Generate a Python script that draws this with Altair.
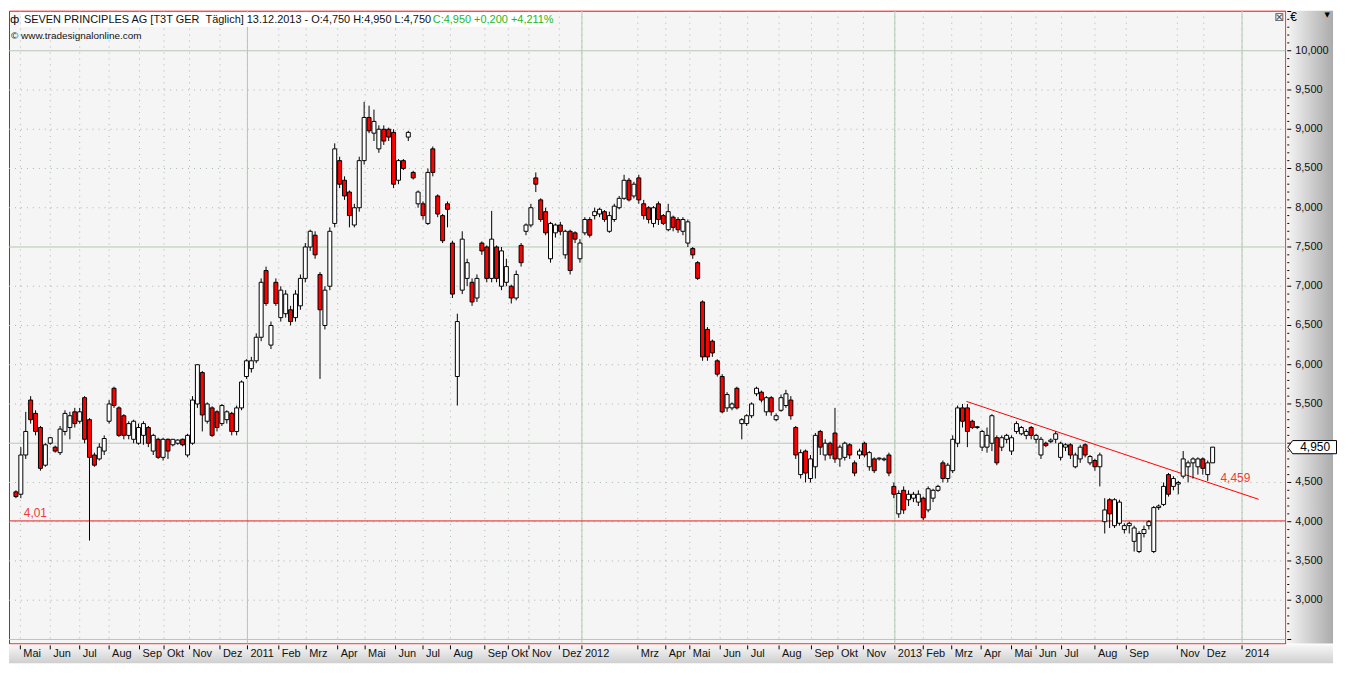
import altair as alt
import pandas as pd

# ---------------- data ----------------
opens = [4.38,4.35,4.85,5.55,5.38,5.20,4.72,5.00,4.95,4.88,5.15,5.20,5.40,5.28,5.58,5.30,4.85,4.80,4.90,5.28,
         5.70,5.45,5.35,5.10,5.05,5.00,5.10,5.20,4.90,5.05,4.82,5.05,4.98,5.00,5.05,4.85,5.00,5.50,5.90,5.28,
         5.45,5.40,5.25,5.30,5.38,5.15,5.45,5.85,5.95,6.05,6.35,7.20,6.25,7.05,6.60,6.65,6.70,6.60,6.75,7.10,
         7.50,7.65,7.15,6.50,7.00,7.80,8.60,8.35,8.20,7.78,8.00,8.60,9.15,8.95,8.75,9.00,9.00,8.96,8.35,8.60,
         8.90,8.45,8.05,8.05,7.80,8.75,8.15,7.90,8.05,7.55,5.85,6.95,7.10,7.05,6.85,7.55,7.50,7.10,7.50,7.00,
         7.05,7.00,6.85,7.52,7.70,7.78,8.38,8.10,7.95,7.35,7.68,7.78,7.40,7.70,7.68,7.35,7.68,7.85,7.90,7.92,
         7.95,7.70,7.85,8.00,8.12,8.35,8.15,8.38,8.05,8.00,7.80,8.05,7.90,7.72,7.88,7.85,7.70,7.55,7.48,7.30,
         6.80,6.45,6.30,6.05,5.85,5.45,5.45,5.70,5.25,5.25,5.35,5.63,5.65,5.40,5.58,5.30,5.42,5.48,5.55,5.20,
         4.60,4.90,4.55,4.70,5.15,4.85,5.00,5.13,4.80,4.82,4.98,4.75,4.85,5.00,4.70,4.80,4.80,4.79,4.85,4.45,
         4.10,4.40,4.28,4.30,4.25,4.30,4.15,4.30,4.40,4.75,4.55,4.65,5.00,5.45,5.45,5.28,5.20,4.95,4.95,5.00,
         5.07,4.95,5.05,4.90,5.15,5.12,5.10,5.20,5.05,4.85,5.00,5.02,5.05,4.82,4.95,4.98,4.70,4.80,4.98,4.75,
         4.78,4.70,4.00,4.28,3.95,3.98,3.90,3.95,3.75,3.62,3.85,3.95,3.62,4.18,4.22,4.60,4.45,4.48,4.58,4.70,
         4.75,4.70,4.80,4.60,4.75]
highs = [4.40,4.95,5.40,5.60,5.42,5.22,5.00,5.08,4.97,5.22,5.42,5.40,5.45,5.45,5.60,5.32,4.88,5.00,5.10,5.55,
         5.72,5.47,5.37,5.28,5.30,5.25,5.28,5.22,5.12,5.07,5.07,5.06,5.05,5.05,5.06,5.12,5.60,6.00,5.92,5.52,
         5.47,5.42,5.50,5.42,5.40,5.48,5.80,6.07,6.10,6.40,7.10,7.25,6.55,7.10,7.00,6.95,6.75,6.95,7.15,7.55,
         7.72,7.70,7.18,7.00,7.75,8.82,8.65,8.40,8.22,8.05,8.65,9.35,9.30,9.25,9.05,9.05,9.02,9.00,8.62,8.62,
         8.98,8.47,8.22,8.08,8.50,8.78,8.17,7.92,8.08,7.58,6.65,7.70,7.35,7.10,7.15,7.57,7.52,7.96,7.52,7.50,
         7.35,7.02,7.20,7.55,7.80,8.05,8.45,8.12,8.00,7.82,7.80,7.82,7.72,7.72,7.70,7.60,7.88,7.88,8.00,8.00,
         7.97,7.95,8.05,8.15,8.42,8.38,8.33,8.42,8.10,8.02,8.02,8.08,7.92,8.05,7.90,7.88,7.88,7.85,7.50,7.32,
         6.82,6.48,6.32,6.07,5.88,5.65,5.52,5.72,5.32,5.37,5.52,5.72,5.67,5.60,5.60,5.38,5.62,5.68,5.60,5.22,
         4.92,4.92,4.85,5.13,5.17,5.05,5.02,5.45,4.98,5.02,5.00,4.78,4.93,5.02,4.90,4.82,4.82,4.82,4.88,4.50,
         4.40,4.45,4.40,4.38,4.40,4.32,4.45,4.42,4.47,4.78,4.75,5.10,5.48,5.50,5.50,5.30,5.22,5.17,5.20,5.37,
         5.10,5.10,5.12,5.10,5.28,5.22,5.18,5.22,5.12,5.08,5.02,5.06,5.15,5.02,5.00,5.00,4.88,4.98,5.00,4.85,
         4.80,4.88,4.30,4.30,4.30,4.28,3.98,4.00,3.95,3.88,3.95,4.02,4.20,4.22,4.50,4.62,4.58,4.52,4.90,4.78,
         4.82,4.82,4.82,4.78,4.95]
lows = [4.30,4.30,4.80,5.25,5.10,4.65,4.70,4.98,4.88,4.85,5.10,5.05,5.20,5.25,5.00,3.76,4.70,4.78,4.85,5.25,
        5.45,5.08,5.05,5.05,5.00,4.98,4.98,4.95,4.85,4.80,4.78,4.80,4.96,4.98,4.96,4.82,4.98,5.45,5.15,5.25,
        5.08,5.15,5.22,5.25,5.10,5.10,5.42,5.82,5.90,6.02,6.30,6.75,6.20,6.75,6.55,6.60,6.50,6.55,6.70,7.05,
        7.45,7.35,5.82,6.45,6.95,7.75,8.25,8.10,7.75,7.75,7.95,8.55,8.95,8.85,8.70,8.80,8.85,8.25,8.30,8.48,
        8.85,8.36,8.00,7.85,7.78,8.40,7.88,7.55,7.75,6.85,5.48,6.90,7.00,6.75,6.80,7.40,7.05,7.05,7.05,6.95,
        7.00,6.78,6.82,7.25,7.65,7.75,8.20,7.82,7.65,7.30,7.62,7.65,7.35,7.15,7.55,7.30,7.65,7.62,7.85,7.88,
        7.82,7.68,7.82,7.98,8.10,8.08,8.12,8.05,7.85,7.80,7.75,7.78,7.78,7.70,7.70,7.68,7.65,7.50,7.35,7.08,
        6.05,6.05,6.10,5.85,5.38,5.40,5.42,5.43,5.05,5.22,5.32,5.60,5.52,5.35,5.35,5.28,5.40,5.45,5.30,4.80,
        4.55,4.50,4.50,4.55,4.85,4.78,4.80,4.75,4.70,4.78,4.80,4.58,4.80,4.82,4.65,4.62,4.78,4.77,4.58,4.30,
        4.05,4.10,4.20,4.25,4.20,4.02,4.12,4.25,4.38,4.50,4.50,4.62,4.95,5.20,4.95,5.18,5.18,4.90,4.88,4.90,
        4.72,4.90,5.00,4.85,5.12,5.10,5.05,5.05,5.00,4.80,4.95,5.00,5.00,4.78,4.90,4.80,4.68,4.75,4.82,4.72,
        4.65,4.45,3.85,3.92,3.92,3.95,3.85,3.85,3.62,3.60,3.80,3.90,3.60,4.15,4.20,4.32,4.40,4.35,4.55,4.50,
        4.55,4.60,4.60,4.52,4.75]
closes = [4.32,4.85,5.15,5.30,5.15,4.68,4.98,5.07,4.90,5.18,5.38,5.35,5.25,5.40,5.05,4.82,4.72,4.95,5.06,5.50,
          5.48,5.10,5.10,5.25,5.28,5.20,5.25,5.00,5.10,4.82,5.05,4.90,5.05,5.04,4.98,5.10,5.55,6.00,5.36,5.50,
          5.10,5.20,5.48,5.40,5.15,5.45,5.78,6.05,6.05,6.35,7.05,6.78,6.50,6.78,6.95,6.90,6.55,6.90,7.10,7.50,
          7.70,7.40,6.70,6.95,7.70,8.75,8.30,8.15,7.90,8.00,8.60,9.15,8.98,9.10,9.00,8.85,8.90,8.30,8.60,8.50,
          8.96,8.38,8.20,7.90,8.45,8.45,7.92,7.58,7.98,6.90,6.55,7.60,7.30,6.80,7.10,7.45,7.10,7.60,7.10,7.45,
          7.25,6.85,7.15,7.30,7.78,8.00,8.30,7.85,7.68,7.80,7.78,7.70,7.70,7.20,7.60,7.55,7.85,7.65,7.95,7.98,
          7.85,7.90,8.02,8.12,8.35,8.10,8.30,8.10,7.90,7.85,8.00,7.85,7.80,7.95,7.75,7.72,7.85,7.82,7.40,7.10,
          6.10,6.10,6.15,5.88,5.40,5.62,5.50,5.45,5.30,5.35,5.50,5.70,5.55,5.58,5.40,5.35,5.58,5.63,5.35,4.85,
          4.88,4.62,4.80,5.10,4.95,5.00,4.85,4.80,4.95,5.00,4.85,4.62,4.90,4.85,4.88,4.65,4.81,4.80,4.62,4.35,
          4.36,4.15,4.35,4.35,4.35,4.05,4.42,4.40,4.45,4.55,4.72,5.05,5.45,5.28,5.15,5.20,5.21,5.15,5.10,5.35,
          4.75,5.07,5.10,5.07,5.25,5.20,5.15,5.10,5.10,5.05,4.97,5.04,5.12,5.00,4.98,4.85,4.85,4.95,4.85,4.83,
          4.70,4.85,4.15,4.10,4.28,4.25,3.95,3.98,3.92,3.85,3.90,4.00,4.18,4.20,4.45,4.35,4.55,4.50,4.80,4.75,
          4.80,4.80,4.68,4.75,4.95]

month_pos = [0.9, 7, 13, 19, 25.2, 30.2, 35.4, 41.6,
             47.2, 53.6, 59.2, 65.6, 71.2, 77.4, 83, 88.6, 95.6, 100.4, 104.6, 110.8,
             115.4, 126.8, 132.5, 137.4, 143.6, 149.2, 155.6, 162.2, 167.6, 172.8,
             179.2, 185, 190.8, 196.8, 203, 208, 213.2, 220, 226.4, 236.8, 242.2,
             250]
month_labels = ["Mai", "Jun", "Jul", "Aug", "Sep", "Okt", "Nov", "Dez",
                "2011", "Feb", "Mrz", "Apr", "Mai", "Jun", "Jul", "Aug", "Sep", "Okt", "Nov", "Dez",
                "2012", "Mrz", "Apr", "Mai", "Jun", "Jul", "Aug", "Sep", "Okt", "Nov",
                "2013", "Feb", "Mrz", "Apr", "Mai", "Jun", "Jul", "Aug", "Sep", "Nov", "Dez",
                "2014"]
year_pos = [47.2, 115.4, 179.2, 250]

price_levels = [3.0, 3.5, 4.0, 4.5, 5.0, 5.5, 6.0, 6.5, 7.0, 7.5, 8.0, 8.5, 9.0, 9.5, 10.0]
major_levels = [2.5, 5.0, 7.5, 10.0]
minor_levels = [round(2.5 + 0.1 * i, 1) for i in range(81)]

support_level = 4.01
trend_k = [193.8, 253.4]
trend_p = [5.533, 4.285]
trend_label_value = 4.459

title_black = "SEVEN PRINCIPLES AG [T3T GER \u00a0T\u00e4glich] 13.12.2013 - O:4,750 H:4,950 L:4,750"
title_green = "C:4,950 +0,200 +4,211%"
source_text = "\u00a9 www.tradesignalonline.com"

# ---------------- layout ----------------
W, H = 1283, 636
XDOM = [-0.4, 257.8]
YDOM = [2.45, 10.51]
FONT = "Liberation Sans"

xs = alt.Scale(domain=XDOM, nice=False, zero=False)
ys = alt.Scale(domain=YDOM, nice=False, zero=False)


def X(f):
    return alt.X(f, type="quantitative", scale=xs, axis=None)


def Y(f):
    return alt.Y(f, type="quantitative", scale=ys, axis=None)


def de(v, d=3):
    return f"{v:.{d}f}".replace(".", ",")


last_close = closes[-1]
candles = pd.DataFrame({"k": list(range(len(opens))), "o": opens, "h": highs, "l": lows, "c": closes})
one = pd.DataFrame({"t": [""]})
months = pd.DataFrame({"k": month_pos, "lab": month_labels})
years = pd.DataFrame({"k": year_pos})
dotted_levels = pd.DataFrame({"v": [v for v in price_levels if v not in major_levels]})
solid_levels = pd.DataFrame({"v": major_levels})
minor_df = pd.DataFrame({"v": [v for v in minor_levels if round(v * 2) != v * 2]})
major_tick_df = pd.DataFrame({"v": [v for v in minor_levels if round(v * 2) == v * 2]})
# the 5,000 label sits under the last-price box in the reference
shown_levels = [v for v in price_levels if abs(v - last_close) > 0.12]
ylabels = pd.DataFrame({"v": shown_levels, "t": [de(v) for v in shown_levels]})
trend = pd.DataFrame({"k": trend_k, "p": trend_p})

GRID_DOT = "#a6b6a6"
GRID_SOLID = "#b3c8b3"
RED = "#ff0000"

right_band = alt.Chart(one).mark_rect(
    fill=alt.Gradient(gradient="linear",
                      stops=[alt.GradientStop(color="#f6f6f6", offset=0),
                             alt.GradientStop(color="#ababab", offset=1)],
                      x1=0, x2=1, y1=0, y2=0)
).encode(x=alt.value(W + 1), x2=alt.value(W + 48), y=alt.value(0), y2=alt.value(H))

bottom_band = alt.Chart(one).mark_rect(
    fill=alt.Gradient(gradient="linear",
                      stops=[alt.GradientStop(color="#f8f8f8", offset=0),
                             alt.GradientStop(color="#cfcfcf", offset=1)],
                      x1=0, x2=0, y1=0, y2=1)
).encode(x=alt.value(0), x2=alt.value(W + 48), y=alt.value(H + 1), y2=alt.value(H + 20))

hgrid_dot = alt.Chart(dotted_levels).mark_rule(color=GRID_DOT, strokeWidth=1, strokeDash=[1, 5]).encode(
    y=Y("v"), x=alt.value(0), x2=alt.value(W))
hgrid_solid = alt.Chart(solid_levels).mark_rule(color=GRID_SOLID, strokeWidth=1).encode(
    y=Y("v"), x=alt.value(0), x2=alt.value(W))
vgrid_dot = alt.Chart(months).mark_rule(color=GRID_DOT, strokeWidth=1, strokeDash=[1, 5]).encode(
    x=X("k"), y=alt.value(0), y2=alt.value(H))
vgrid_solid = alt.Chart(years).mark_rule(color=GRID_SOLID, strokeWidth=1).encode(
    x=X("k"), y=alt.value(0), y2=alt.value(H))

title_bg = alt.Chart(one).mark_rect(fill="white").encode(
    x=alt.value(12), x2=alt.value(543), y=alt.value(2), y2=alt.value(16))
icon = alt.Chart(pd.DataFrame({"t": ["\u0444"]})).mark_text(
    font="DejaVu Sans", fontSize=11, align="left", baseline="middle", color="black").encode(
    x=alt.value(1), y=alt.value(9), text="t:N")
t_black = alt.Chart(pd.DataFrame({"t": [title_black]})).mark_text(
    font=FONT, fontSize=11, align="left", baseline="middle", color="#111111").encode(
    x=alt.value(15), y=alt.value(9), text="t:N")
t_green = alt.Chart(pd.DataFrame({"t": [title_green]})).mark_text(
    font=FONT, fontSize=11, align="left", baseline="middle", color="#22b722").encode(
    x=alt.value(426), y=alt.value(9), text="t:N")
t_src = alt.Chart(pd.DataFrame({"t": [source_text]})).mark_text(
    font=FONT, fontSize=10, align="left", baseline="middle", color="#111111").encode(
    x=alt.value(2), y=alt.value(25), text="t:N")

support = alt.Chart(pd.DataFrame({"v": [support_level]})).mark_rule(color="#e02020", strokeWidth=1).encode(
    y=Y("v"), x=alt.value(0), x2=alt.value(W))
trend_line = alt.Chart(trend).mark_line(color=RED, strokeWidth=1).encode(x=X("k"), y=Y("p"))

wicks = alt.Chart(candles).mark_rule(color="black", strokeWidth=1).encode(x=X("k"), y=Y("l"), y2="h")
bodies = alt.Chart(candles).mark_bar(size=4, stroke="black", strokeWidth=1).encode(
    x=X("k"), y=Y("o"), y2="c",
    fill=alt.condition("datum.c < datum.o", alt.value(RED), alt.value("#ffffff")))

ann = pd.DataFrame({"k": [1.6, 245.6], "p": [support_level, trend_label_value],
                    "t": [de(support_level, 2), de(trend_label_value)]})
annotations = alt.Chart(ann).mark_text(font=FONT, fontSize=12, align="left", baseline="bottom",
                                       color="#f03a3a", dy=-1).encode(x=X("k"), y=Y("p"), text="t:N")

ytick_minor = alt.Chart(minor_df).mark_rule(color="black").encode(
    y=Y("v"), x=alt.value(W + 2), x2=alt.value(W + 4))
ytick_major = alt.Chart(major_tick_df).mark_rule(color="black").encode(
    y=Y("v"), x=alt.value(W + 2), x2=alt.value(W + 6))
ytext = alt.Chart(ylabels).mark_text(font=FONT, fontSize=11, align="left", baseline="middle",
                                     color="#111111").encode(y=Y("v"), x=alt.value(W + 10), text="t:N")

xticks = alt.Chart(months).mark_rule(color="black").encode(
    x=X("k"), y=alt.value(H + 2), y2=alt.value(H + 6))
xtext = alt.Chart(months).mark_text(font=FONT, fontSize=11, align="left", baseline="middle",
                                    color="#111111", dx=3).encode(x=X("k"), y=alt.value(H + 11), text="lab:N")

last = pd.DataFrame({"p": [last_close], "t": [de(last_close)]})
price_box = alt.Chart(last).mark_point(
    shape="M -1 0 L -0.8 -0.27 L 1 -0.27 L 1 0.27 L -0.8 0.27 Z",
    size=2401, filled=True, fill="white", stroke="black", strokeWidth=1, opacity=1).encode(
    y=Y("p"), x=alt.value(W + 27))
price_txt = alt.Chart(last).mark_text(font=FONT, fontSize=12, align="center", baseline="middle",
                                      color="black").encode(y=Y("p"), x=alt.value(W + 30), text="t:N")

euro = alt.Chart(pd.DataFrame({"t": ["\u20ac"]})).mark_text(
    font=FONT, fontSize=12, align="left", baseline="middle", color="black").encode(
    x=alt.value(W + 5), y=alt.value(6), text="t:N")
arrow = alt.Chart(pd.DataFrame({"t": ["\u25bc"]})).mark_text(
    font="DejaVu Sans", fontSize=7, align="center", baseline="middle", color="black").encode(
    x=alt.value(W + 42), y=alt.value(4), text="t:N")
closebox = alt.Chart(pd.DataFrame({"t": ["\u22a0"]})).mark_text(
    font="DejaVu Sans", fontSize=12, align="center", baseline="middle", color="#555555").encode(
    x=alt.value(W - 6), y=alt.value(6), text="t:N")

chart = alt.layer(
    right_band, bottom_band,
    hgrid_dot, hgrid_solid, vgrid_dot, vgrid_solid,
    title_bg, icon, t_black, t_green, t_src,
    support, trend_line,
    wicks, bodies,
    annotations,
    ytick_minor, ytick_major, ytext,
    xticks, xtext,
    price_box, price_txt,
    euro, arrow, closebox,
).properties(width=W, height=H, padding=0, background="white").configure_view(
    fill="#f5f5f5", stroke=RED, strokeWidth=1)

chart.save("out.html", embed_options={"renderer": "svg", "actions": False})
